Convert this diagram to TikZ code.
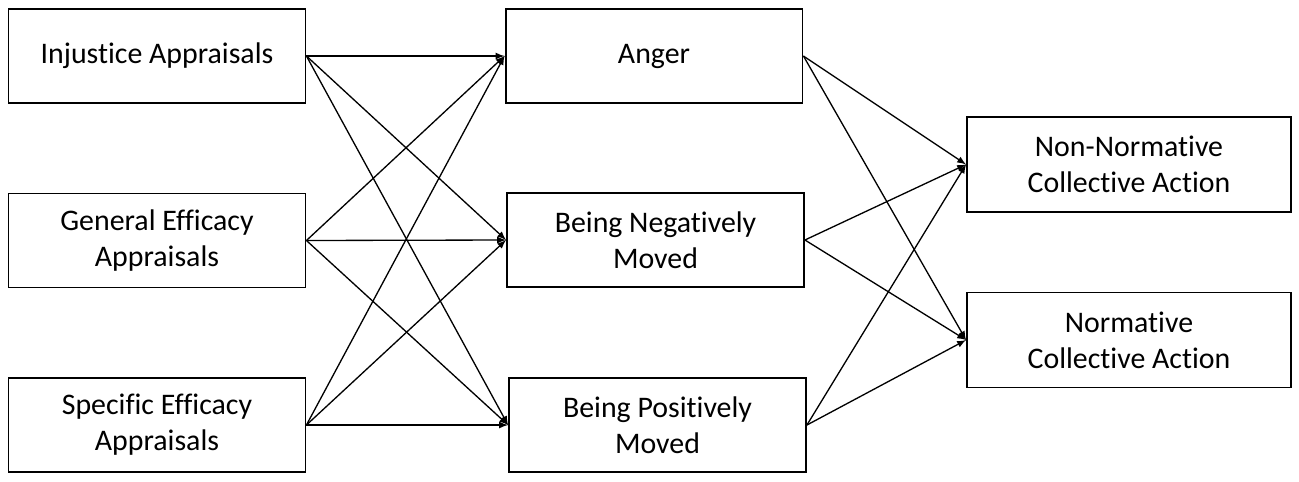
\documentclass[tikz,border=0pt]{standalone}
\usepackage{fontspec}
\setmainfont[Ligatures=NoCommon]{Carlito}
\usetikzlibrary{arrows.meta}

\begin{document}
\begin{tikzpicture}[x=0.02cm,y=-0.02cm,
    box/.style={draw,line width=1.1pt,minimum width=5.94cm,minimum height=1.88cm,
        inner sep=0pt,align=center,font=\fontsize{17}{20.4}\selectfont},
    outbox/.style={box,minimum width=6.48cm,minimum height=1.9cm},
    link/.style={-latex,line width=0.75pt}]
    \useasboundingbox (0,0) rectangle (1299,481);
    \node[box] (inj) at (157,56) {Injustice Appraisals};
    \node[box] (gen) at (157,240.5) {General Efficacy\\ Appraisals};
    \node[box] (spe) at (157,425) {Specific Efficacy\\ Appraisals};
    \node[box] (ang) at (654,56) {Anger};
    \node[box] (neg) at (655.5,240) {Being Negatively\\ Moved};
    \node[box] (pos) at (657.5,425) {Being Positively\\ Moved};
    \node[outbox] (nna) at (1129,164.5) {Non-Normative\\ Collective Action};
    \node[outbox] (nca) at (1129,340) {Normative\\ Collective Action};
    \draw[link] (inj.east) -- (ang.west);
    \draw[link] (inj.east) -- (neg.west);
    \draw[link] (inj.east) -- (pos.west);
    \draw[link] (gen.east) -- (ang.west);
    \draw[link] (gen.east) -- (neg.west);
    \draw[link] (gen.east) -- (pos.west);
    \draw[link] (spe.east) -- (ang.west);
    \draw[link] (spe.east) -- (neg.west);
    \draw[link] (spe.east) -- (pos.west);
    \draw[link] (ang.east) -- (nna.west);
    \draw[link] (ang.east) -- (nca.west);
    \draw[link] (neg.east) -- (nna.west);
    \draw[link] (neg.east) -- (nca.west);
    \draw[link] (pos.east) -- (nna.west);
    \draw[link] (pos.east) -- (nca.west);
\end{tikzpicture}
\end{document}
